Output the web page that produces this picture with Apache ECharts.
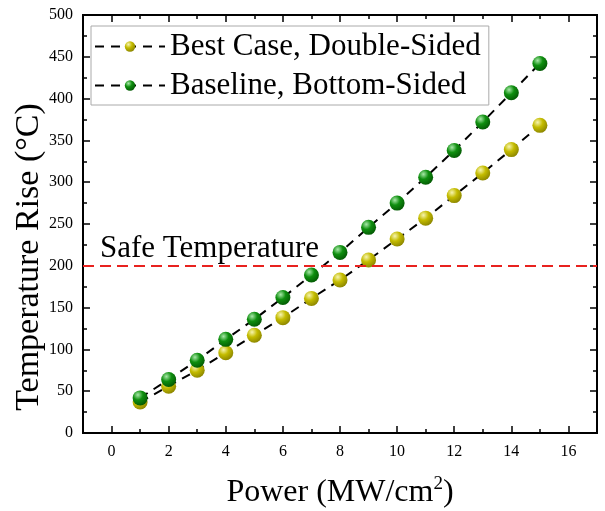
<!DOCTYPE html>
<html>
<head>
    <meta charset="utf-8">
    <title>Temperature Rise</title>
    <script src="https://cdn.jsdelivr.net/npm/echarts@6/dist/echarts.min.js"></script>
</head>
<body style="margin:0">
<div id="main" style="width: 605px;height:511px;"></div>
<script type="text/javascript">
    var power = [1, 2, 3, 4, 5, 6, 7, 8, 9, 10, 11, 12, 13, 14, 15];
    var bestCase = [37, 56, 75, 96, 117, 138, 161, 183, 207, 232, 257, 284, 311, 339, 368];
    var baseline = [42, 64, 87, 112, 136, 162, 189, 216, 246, 275, 306, 338, 372, 407, 442];
    var safeTemp = 200;
    var xMajor = [0, 2, 4, 6, 8, 10, 12, 14, 16];
    var xMinor = [1, 3, 5, 7, 9, 11, 13, 15];

    var font = 'Liberation Serif';

    function pairs(ys) {
        return power.map(function (x, i) { return [x, ys[i]]; });
    }

    // shaded ball look of the markers
    function ball(light, mid, dark) {
        return new echarts.graphic.RadialGradient(0.35, 0.3, 0.75, [
            {offset: 0, color: light},
            {offset: 0.45, color: mid},
            {offset: 1, color: dark}
        ]);
    }

    function xAx(pos, ticks, len, labels) {
        return {
            type: 'value', position: pos, min: -1, max: 17, gridIndex: 0,
            axisLine: {show: true, onZero: false, lineStyle: {color: '#000', width: 2}},
            axisTick: {show: true, inside: true, length: len, customValues: ticks,
                lineStyle: {color: '#000', width: 1.5}},
            axisLabel: labels ? {show: true, customValues: ticks, fontFamily: font,
                fontSize: 16, color: '#000', margin: 11} : {show: false},
            splitLine: {show: false}
        };
    }

    function yAx(pos, labels) {
        return {
            type: 'value', position: pos, min: 0, max: 500, interval: 50,
            axisLine: {show: true, onZero: false, lineStyle: {color: '#000', width: 2}},
            axisTick: {show: true, inside: true, length: 7, lineStyle: {color: '#000', width: 1.5}},
            minorTick: {show: true, splitNumber: 2, length: 4, lineStyle: {color: '#000', width: 1.5}},
            axisLabel: labels ? {show: true, fontFamily: font, fontSize: 16, color: '#000', margin: 10} : {show: false},
            splitLine: {show: false}
        };
    }

    var myChart = echarts.init(document.getElementById('main'));

    var bottomX = xAx('bottom', xMajor, 7, true);
    bottomX.name = '{a|Power (MW/cm}{s|2}{a|)}';
    bottomX.nameLocation = 'middle';
    bottomX.nameGap = 42;
    bottomX.nameTextStyle = {
        rich: {
            a: {fontFamily: font, fontSize: 32, color: '#000'},
            s: {fontFamily: font, fontSize: 19, color: '#000', verticalAlign: 'top', padding: [0, 0, 16, 0]}
        }
    };

    var leftY = yAx('left', true);
    leftY.name = 'Temperature Rise (°C)';
    leftY.nameLocation = 'middle';
    leftY.nameGap = 37;
    leftY.nameMoveOverlap = false;
    leftY.nameTextStyle = {fontFamily: font, fontSize: 34, color: '#000', padding: [0, 66, 0, 0]};

    option = {
        backgroundColor: '#fff',
        animation: false,
        grid: {left: 83, right: 8, top: 15, bottom: 78, outerBoundsMode: 'none', containLabel: false},
        legend: {
            orient: 'vertical',
            left: 91,
            top: 26,
            padding: [5, 8, 4, 3],
            itemGap: 8,
            itemWidth: 70,
            itemHeight: 13,
            itemTextGap: 15,
            borderColor: '#aaa',
            borderWidth: 1,
            backgroundColor: '#fff',
            textStyle: {fontFamily: font, fontSize: 31, color: '#000'},
            data: ['Best Case, Double-Sided', 'Baseline, Bottom-Sided']
        },
        xAxis: [
            bottomX,
            xAx('bottom', xMinor, 4, false),
            xAx('top', xMajor, 7, false),
            xAx('top', xMinor, 4, false)
        ],
        yAxis: [leftY, yAx('right', false)],
        series: [
            {
                name: 'Best Case, Double-Sided',
                type: 'line',
                data: pairs(bestCase),
                symbol: 'circle',
                symbolSize: 15,
                z: 3,
                lineStyle: {color: '#000', width: 2, type: [9, 7]},
                itemStyle: {color: ball('#f6f4b0', '#c4bc00', '#8a8400'), borderWidth: 0}
            },
            {
                name: 'Baseline, Bottom-Sided',
                type: 'line',
                data: pairs(baseline),
                symbol: 'circle',
                symbolSize: 15,
                z: 4,
                lineStyle: {color: '#000', width: 2, type: [9, 7]},
                itemStyle: {color: ball('#a8e8a8', '#0f8f0f', '#035803'), borderWidth: 0},
                markLine: {
                    silent: true,
                    symbol: 'none',
                    lineStyle: {color: '#e8221f', width: 2, type: [11, 6]},
                    label: {
                        show: true, position: 'insideStartTop', formatter: 'Safe Temperature',
                        fontFamily: font, fontSize: 31, color: '#000', distance: [17, 1]
                    },
                    data: [{yAxis: safeTemp}]
                }
            }
        ]
    };

    myChart.setOption(option);
</script>
</body>
</html>
